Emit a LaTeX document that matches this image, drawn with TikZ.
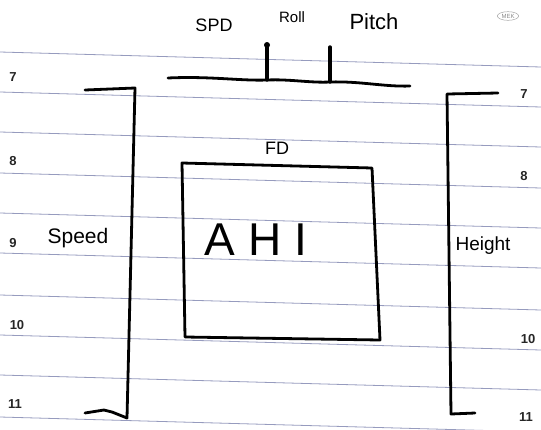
\documentclass[tikz,border=0pt]{standalone}
\usepackage{fontspec}
\setmainfont{Liberation Sans}
\usetikzlibrary{shapes.geometric}
\begin{document}
\begin{tikzpicture}[x=1pt,y=-1pt,
  rule/.style={draw={rgb,255:red,150;green,155;blue,190}, line width=0.8pt},
  ink/.style={draw=black, line width=2.8pt, line cap=round, line join=round},
  num/.style={font=\fontsize{13}{13}\selectfont\bfseries, inner sep=0pt, text=black!85},
  hand/.style={inner sep=0pt, text=black}]
\useasboundingbox (0,0) rectangle (541,429);
\fill[white] (0,0) rectangle (541,429);
% ruled paper lines
\foreach \y in {52,92,132,173,213,253,295,335,375,417}
  \draw[rule] (0,\y) -- (541,\y+15);
% logo stamp
\node[ellipse, draw=black!35, line width=0.5pt, inner sep=1pt, text=black!45,
      font=\fontsize{6}{6}\selectfont] (logo) at (508,16) {MEK};
% line numbers, left
\node[num] (l7) at (13,77) {7};
\node[num] (l8) at (13,161) {8};
\node[num] (l9) at (13,243) {9};
\node[num] (l10) at (17,325) {10};
\node[num] (l11) at (15,404) {11};
% line numbers, right
\node[num] (r7) at (524,94) {7};
\node[num] (r8) at (524,176) {8};
\node[num] (r10) at (528,339) {10};
\node[num] (r11) at (526,417) {11};
% top labels
\node[hand, font=\fontsize{18}{18}\selectfont] (spd) at (214,25) {SPD};
\node[hand, font=\fontsize{15}{15}\selectfont] (roll) at (292,17) {Roll};
\node[hand, font=\fontsize{22}{22}\selectfont] (pitch) at (374,22) {Pitch};
% top horizon line with ticks
\coordinate (h0) at (168,78);
\coordinate (h1) at (267,80);
\coordinate (h2) at (330,82);
\coordinate (h3) at (410,86);
\draw[ink] (h0) .. controls (210,76) and (240,81) .. (h1)
           .. controls (290,79) and (310,83) .. (h2)
           .. controls (360,81) and (385,87) .. (h3);
\coordinate (t1) at (267,45);
\coordinate (t2) at (330,47);
\draw[ink, line width=3.4pt] (h1) -- (t1);
\draw[ink, line width=3.4pt] (h2) -- (t2);
\fill (t1) circle (3pt);
% left bracket (speed tape)
\coordinate (la) at (85,90);
\coordinate (lb) at (135,88);
\coordinate (lc) at (127,418);
\coordinate (ld) at (85,413);
\draw[ink] (la) -- (lb) -- (lc) -- (112,412) -- (104,410) -- (ld);
\node[hand, font=\fontsize{21}{21}\selectfont] (speed) at (78,238) {Speed};
% right bracket (altitude tape)
\coordinate (ra) at (498,93);
\coordinate (rb) at (447,94);
\coordinate (rc) at (451,414);
\coordinate (rd) at (475,413);
\draw[ink] (ra) -- (rb) -- (rc) -- (rd);
\node[hand, font=\fontsize{19}{19}\selectfont] (height) at (483,246) {Height};
% flight display box
\node[hand, font=\fontsize{18}{18}\selectfont] (fd) at (277,148) {FD};
\coordinate (ba) at (182,163);
\coordinate (bb) at (372,168);
\coordinate (bc) at (380,340);
\coordinate (bd) at (185,337);
\draw[ink] (ba) -- (bb) -- (bc) -- (bd) -- cycle;
\node[hand, font=\fontsize{46}{46}\selectfont] (ahi) at (256,240) {A H I};
\end{tikzpicture}
\end{document}
